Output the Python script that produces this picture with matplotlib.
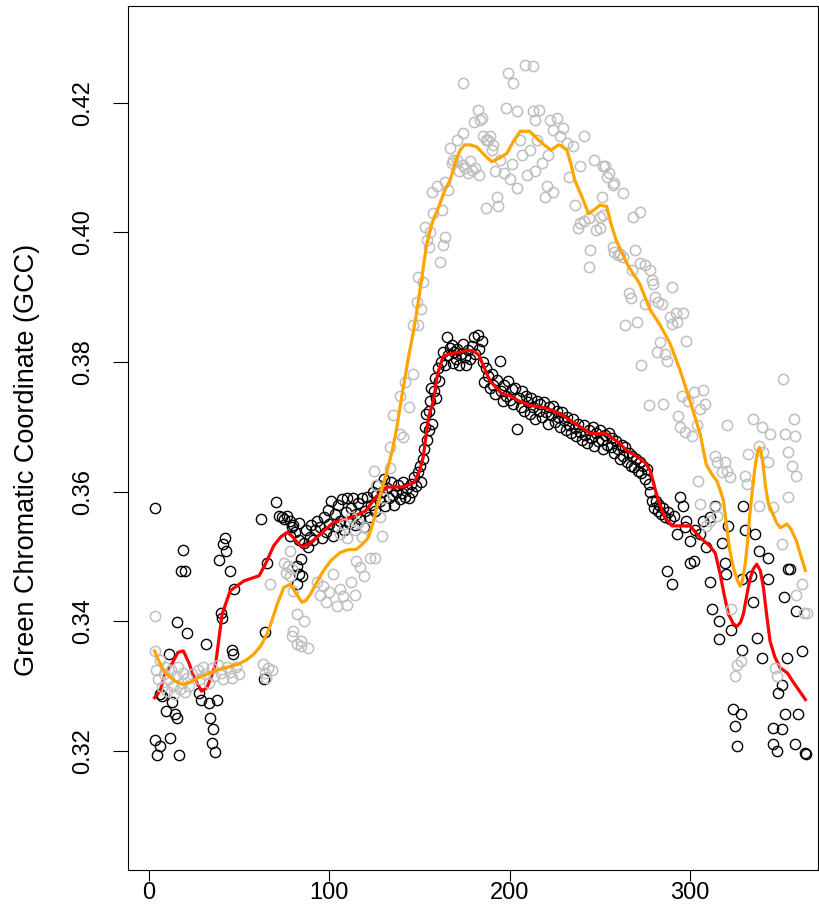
import matplotlib
matplotlib.use('Agg')
import matplotlib.pyplot as plt

# GCC values: (day of year, gcc)
black_pts = [
    (3, .3575), (3.5, .3217), (4.4, .3194), (6.3, .3207), (6.3, .3287), (7.2, .3284), (9.6, .3261),
    (10.9, .3350), (11.8, .3220), (12.8, .3276), (14.6, .3256), (15.5, .3251), (15.5, .3398),
    (16.5, .3194), (17.4, .3478), (18.9, .3510), (20.1, .3478), (21, .3381), (27.5, .3289),
    (28.5, .3279), (31.6, .3364), (33, .3274), (33.6, .3251), (35, .3212), (35.5, .3233),
    (36.8, .3198), (37.7, .3279), (38.6, .3495), (40, .3412), (40.5, .3405), (41, .3519),
    (42.3, .3529), (42.7, .3508), (44.7, .3477), (46, .3356), (46.6, .3350), (47, .3449),
    (62.3, .3557), (63.6, .3310), (64.3, .3383), (65.4, .3489), (70.4, .3584), (72, .3562),
    (73.5, .3560), (75, .3558), (76.5, .3562), (78, .3555), (78, .3532), (79, .3545), (80, .3548),
    (81, .3538), (82, .3457), (82, .3485), (83, .3525), (83, .3473), (83.4, .3552), (84, .3496),
    (84.7, .3470), (86, .3520), (87, .3540), (88, .3515), (89, .3530), (90, .3548), (91, .3525),
    (92, .3540), (93, .3555),
    (95, .3545), (96, .3528), (97, .3560), (98, .3538), (99, .3572), (100, .3550), (101, .3585),
    (102, .3532), (103, .3565), (104, .3545), (105, .3580), (106, .3555), (107, .3588), (108, .3540),
    (109, .3568), (110, .3590), (111, .3552), (112, .3575), (113, .3590), (114, .3548), (115, .3565),
    (116, .3582), (117, .3558), (118, .3590), (119, .3545), (120, .3570), (121, .3592), (122, .3560),
    (123, .3580), (124, .3600), (125, .3570), (126, .3595), (127, .3610), (128, .3585), (129, .3600),
    (130, .3620), (131, .3578), (132, .3605), (133, .3590), (134, .3615), (135, .3595), (136, .3580),
    (137, .3600), (138, .3610), (139, .3588), (140, .3598), (141, .3615), (142, .3592), (143, .3605),
    (144, .3590), (145, .3612), (146, .3600), (147, .3622), (148, .3608), (149, .3630), (150, .3640),
    (151, .3615),
    (152, .3650), (152.5, .3665), (153, .3700), (153.5, .3720), (154, .3680), (155, .3695),
    (155.5, .3725), (156, .3740), (156.5, .3760), (157, .3705), (158, .3755), (158.5, .3775),
    (159, .3745), (160, .3790), (161, .3770), (162, .3800), (163, .3815), (164, .3795), (165, .3838),
    (166, .3810), (167, .3822), (168, .3826), (168.6, .3798), (169, .3815), (170, .3805), (171, .3820),
    (172, .3795), (173, .3812), (174, .3828), (175, .3808), (176, .3795), (177, .3818), (178, .3805),
    (179, .3825), (180, .3838), (181, .3812), (182.5, .3841), (183, .3820), (184.4, .3833),
    (185, .3800), (186, .3769), (187, .3790), (188, .3778), (189, .3760), (190, .3782), (191, .3765),
    (192, .3750), (193, .3772), (194.7, .3802), (195, .3755), (196, .3740), (197, .3765), (198, .3748),
    (199, .3770), (200, .3742), (201, .3758), (202, .3735), (203, .3760), (204, .3697), (205, .3745),
    (206, .3730), (207, .3755), (208, .3725), (209, .3748), (210, .3738), (211, .3720), (212, .3745),
    (213, .3730), (214, .3712), (215, .3740), (216, .3725), (217, .3735), (218, .3715), (219, .3738),
    (220, .3722), (221, .3705), (222, .3730), (223, .3718), (224, .3732), (225, .3708), (226, .3725),
    (227, .3715), (228, .3700), (229, .3722), (230, .3710), (231, .3695), (232, .3715), (233, .3702),
    (234, .3690), (235, .3712), (236, .3698), (237, .3685), (238, .3705), (239, .3692), (240, .3680),
    (241, .3702), (242, .3688), (243, .3675), (244, .3695), (245, .3682), (246, .3700), (247, .3670),
    (248, .3690), (249, .3678), (250, .3695), (251, .3680), (252, .3665), (253, .3688), (254, .3672),
    (255, .3690), (256, .3668), (257, .3682), (258, .3660), (259, .3678), (260, .3665), (261, .3650),
    (262, .3672), (263, .3655), (264, .3668), (265, .3645), (266, .3660), (267, .3640), (268, .3655),
    (269, .3638), (270, .3650), (271, .3632), (272, .3645), (273, .3628), (274, .3640), (275, .3620),
    (276, .3635), (277, .3612), (278, .3600), (279, .3585), (280, .3575), (281, .3586), (282, .3570),
    (283, .3580), (284, .3565), (285, .3575), (286, .3560), (287, .3478), (288, .3568), (289, .3558),
    (290, .3458), (291, .3562), (292.6, .3535), (294.5, .3591), (296, .3578), (297, .3545),
    (298, .3555), (300, .3524), (300, .3490), (302, .3493), (303, .3540), (305.6, .3535),
    (307, .3555), (309, .3514), (311, .3460), (311, .3560), (312, .3418), (314, .3578), (316, .3400),
    (316, .3373), (318, .3520), (319.5, .3490), (320, .3472), (321, .3547), (323, .3387),
    (324, .3264), (325, .3238), (326, .3207), (328, .3256), (328.7, .3465), (328.7, .3356),
    (329.6, .3578), (330.6, .3540), (334, .3470), (335, .3429), (336, .3534), (337, .3374),
    (338, .3509), (339.8, .3343), (343.5, .3498), (343.5, .3465), (346, .3235), (346, .3210),
    (348, .3199), (349, .3289), (351, .3302), (351, .3233), (352, .3437), (352.7, .3256),
    (353.6, .3343), (354.6, .3480), (355.5, .3480), (358, .3210), (359, .3416), (360, .3256),
    (362, .3354), (364, .3197), (364.5, .3195),
]

gray_pts = [
    (3.2, .3408), (3.5, .3354), (4, .3325), (5, .3310), (6, .3340), (7, .3298), (8, .3318), (9, .3330),
    (10, .3292), (11, .3310), (12, .3325), (13, .3300), (14, .3288), (15, .3315), (16, .3330),
    (17, .3295), (18, .3305), (19, .3320), (20, .3290), (21, .3312), (22, .3300), (24, .3318),
    (27, .3325), (28, .3310), (30, .3330), (31, .3318), (33, .3305), (35, .3328), (36, .3315),
    (38, .3332), (40, .3320), (41, .3310), (43, .3330), (45, .3322), (46, .3312), (48, .3330),
    (50, .3318), (63, .3334), (64, .3320), (65, .3312), (66, .3328), (67, .3457), (68, .3325),
    (75, .3490), (76, .3475), (77, .3485), (78, .3470), (78.4, .3508), (79.3, .3377), (79.5, .3480),
    (80, .3447), (80, .3385), (82, .3411), (82, .3364), (84, .3361), (84, .3370), (86, .3400),
    (88, .3358), (93, .3460), (95, .3440), (96.7, .3454), (98, .3430), (100, .3445), (102, .3472),
    (104, .3423), (106, .3450), (107.8, .3439), (110, .3425), (112, .3460), (114, .3440),
    (115, .3493), (117, .3483), (119, .3470), (122.6, .3498), (125, .3498), (106, .3535),
    (108, .3550), (110, .3528), (112, .3560), (114, .3540), (116, .3552), (118, .3530), (120, .3545),
    (128, .3560), (129, .3531), (124.5, .3632), (126, .3610), (130, .3590), (133.7, .3637),
    (133.7, .3668), (135.5, .3718), (139, .3689), (141, .3684), (139, .3748), (144, .3730),
    (142, .3769), (146.6, .3782), (146.6, .3857), (148.5, .3893), (149.4, .3857), (151, .3882),
    (149.4, .3931), (152, .3924), (153, .4009), (155.8, .4001), (154, .3988), (155, .3978),
    (164, .3993), (163, .3980), (161.4, .3955), (157.7, .4030), (162.4, .4035), (156.7, .4063),
    (159.5, .4071), (166, .4065), (164, .4078),
    (167, .4130), (168, .4107), (168.8, .4112), (170.6, .4143), (170.6, .4112), (172, .4095),
    (174, .4153), (174, .4104), (174, .4230), (175.3, .4100), (177, .4091), (178, .4110),
    (179, .4096), (180, .4171), (181, .4099), (182.6, .4189), (183.6, .4174), (184.4, .4176),
    (183, .4088), (185.4, .4148), (187, .4143), (187, .4037), (188, .4143), (189, .4148),
    (190, .4127), (191, .4135), (192, .4095), (193, .4055), (193.7, .4040), (194.7, .4112),
    (196.6, .4091), (198, .4192), (199, .4246), (200, .4083), (201, .4105), (202, .4230),
    (204, .4068), (204, .4187), (205.8, .4143), (207, .4120), (208.5, .4259), (209.5, .4089),
    (211, .4127), (213, .4256), (213, .4187), (214, .4174), (214, .4094), (215, .4143), (216, .4189),
    (217.7, .4107), (219.6, .4055), (220.6, .4071), (221, .4120), (222.4, .4174), (224, .4158),
    (224, .4063), (226, .4176), (228, .4148), (229.8, .4161), (231.7, .4138), (232.6, .4086),
    (235, .4133), (236, .4042), (238, .4006), (239, .4014), (239, .4102), (241, .4148), (241, .4017),
    (243.7, .4022), (243.7, .3947), (244.6, .3973), (246.5, .4112), (248, .4004), (250, .4024),
    (250, .4006), (251, .4055), (252, .4102), (252, .4027), (253, .4102), (254, .4086),
    (254.8, .4091), (257.5, .4073), (258, .4076), (257.5, .3978), (258, .3970), (260, .3965),
    (261, .3967), (263, .4060), (263, .3962), (264, .3857), (266, .3906), (267, .3898),
    (267.7, .3942), (268.6, .4024), (269.5, .3973), (270.5, .3862), (272, .4032), (272, .3952),
    (273, .3795), (275, .3950), (275, .3890), (277, .3733), (278, .3942), (278.7, .3926),
    (279.7, .3921), (280.6, .3900), (281.6, .3815), (282.5, .3893), (283.4, .3831), (284.3, .3890),
    (285, .3735), (286, .3813), (287, .3802), (289, .3870), (290, .3916), (290, .3859), (292, .3875),
    (292.6, .3862), (293.6, .3717), (294.5, .3699), (295.4, .3748), (296, .3875), (297, .3692),
    (298, .3833), (299, .3740), (301, .3686), (302, .3753), (303.7, .3702), (304.7, .3617),
    (305.6, .3728), (305.6, .3581), (307.4, .3756), (308.4, .3735), (309, .3547), (311, .3555),
    (314, .3655), (314, .3576), (315, .3645), (315, .3563), (317.6, .3630), (319.5, .3645),
    (320.4, .3632), (320.4, .3702), (322, .3622), (323, .3418), (325, .3315), (326, .3333),
    (328, .3338), (330.6, .3624), (331.5, .3612), (332.4, .3658), (335, .3712), (338, .3671),
    (338, .3578), (339.8, .3699), (340.7, .3661), (343.5, .3645), (344.4, .3689), (346, .3576),
    (347, .3328), (348, .3315), (351, .3519), (351.8, .3774), (352.7, .3689), (354.6, .3661),
    (354.6, .3591), (356.4, .3640), (357.4, .3712), (358.3, .3686), (359, .3624), (359, .3441),
    (362, .3457), (363, .3413), (364.7, .3413),
]

# smoothed curves
red_curve = [
    (3, .3282), (6, .3292), (9, .3320), (13, .3336), (16, .3352), (19, .3354), (22, .3336), (25, .3313),
    (29, .3292), (32, .3297), (35, .3318), (37, .3336), (40.5, .3411), (45, .3447), (52.5, .3462),
    (61, .3470), (64.5, .3488), (69, .3516), (73, .3530), (76.5, .3537), (79, .3532), (82, .3522),
    (85, .3514), (89, .3520), (95, .3534), (102, .3552), (112, .3560), (120, .3570), (126, .3592),
    (132, .3607), (141, .3607), (147, .3614), (150, .3632), (152, .3653), (155, .3715), (157.7, .3740),
    (160, .3782), (163, .3808), (166, .3812), (172, .3815), (177, .3818), (180, .3817), (183, .3810),
    (186, .3790), (189, .3771), (195.6, .3751), (200, .3748), (205, .3740), (211, .3733), (218, .3730),
    (224, .3725), (229, .3718), (233.5, .3710), (239, .3700), (244.6, .3690), (250, .3689),
    (254, .3689), (261, .3674), (265, .3663), (270, .3655), (275, .3645), (278, .3632), (280, .3610),
    (282.5, .3586), (286, .3560), (290, .3547), (295, .3547), (300, .3547), (305.6, .3529),
    (311, .3516), (314, .3505), (316.7, .3473), (319, .3440), (321.3, .3411), (324, .3396),
    (326, .3392), (328, .3398), (329.6, .3411), (331.5, .3440), (333, .3462), (335, .3480),
    (337, .3488), (339, .3478), (340.7, .3452), (342.5, .3410), (344.4, .3369), (347, .3345),
    (350, .3328), (354, .3320), (357, .3307), (360, .3295), (364, .3279),
]

orange_curve = [
    (3, .3354), (6, .3335), (9, .3320), (14, .3308), (19, .3302), (23, .3306), (27.5, .3313),
    (32, .3318), (36, .3323), (42, .3328), (48.8, .3333), (54, .3340), (58, .3349), (62, .3362),
    (65.4, .3380), (68, .3400), (71, .3426), (74.7, .3452), (78.3, .3457), (81, .3445), (84.7, .3429),
    (87, .3432), (89.3, .3441), (93, .3460), (96.7, .3478), (101, .3494), (106, .3506), (110, .3510),
    (115, .3511), (118, .3518), (121.6, .3529), (124, .3550), (126.3, .3576), (129, .3603),
    (132, .3632), (135, .3665), (137.4, .3699), (140, .3745), (142, .3777), (144, .3810),
    (146, .3838), (148, .3870), (149.4, .3895), (152, .3945), (154, .3983), (157, .4015),
    (161.4, .4045), (164, .4065), (167, .4081), (170, .4110), (172.5, .4127), (175, .4135),
    (178, .4135), (181.7, .4132), (185, .4122), (190, .4109), (194.7, .4115), (198.4, .4122),
    (202, .4140), (205.8, .4156), (211, .4156), (214, .4148), (217, .4140), (220, .4133),
    (223, .4127), (227, .4135), (229, .4133), (231.7, .4127), (234, .4105), (236, .4081),
    (240, .4055), (243.7, .4029), (247, .4035), (250, .4042), (253.8, .4040), (256, .4015),
    (259, .3988), (262, .3970), (265, .3952), (268, .3938), (272, .3921), (275, .3900), (278, .3880),
    (283.4, .3857), (289, .3828), (294.5, .3787), (300, .3740), (305.6, .3689), (309, .3642),
    (312, .3627), (314.8, .3617), (317, .3600), (318.5, .3586), (320.4, .3544), (322, .3510),
    (324, .3483), (326, .3465), (327.8, .3454), (329, .3462), (330.6, .3488), (332, .3525),
    (333, .3560), (334.5, .3600), (336, .3637), (337.5, .3662), (338.5, .3668), (339.5, .3660),
    (340.7, .3637), (342, .3605), (343.5, .3581), (346, .3565), (348, .3552), (350, .3544),
    (352, .3547), (353.6, .3550), (356, .3542), (359, .3524), (361, .3505), (364, .3478),
]

x_ticks = [0, 100, 200, 300]
y_ticks = [0.32, 0.34, 0.36, 0.38, 0.40, 0.42]
y_title = 'Green Chromatic Coordinate (GCC)'

plt.rcParams['font.family'] = ['Liberation Sans', 'DejaVu Sans']

fig = plt.figure(figsize=(8.2, 9.07), dpi=100)
ax = fig.add_axes([0.1557, 0.0408, 0.8419, 0.9531])

bx, by = zip(*black_pts)
gx, gy = zip(*gray_pts)
rx, ry = zip(*red_curve)
ox, oy = zip(*orange_curve)

ax.plot(bx, by, 'o', ms=7.4, mfc='none', mec='black', mew=1.0, zorder=2)
ax.plot(rx, ry, color='#FF0000', lw=2.3, zorder=3, solid_joinstyle='round')
ax.plot(gx, gy, 'o', ms=7.4, mfc='none', mec='#BEBEBE', mew=1.1, zorder=4)
ax.plot(ox, oy, color='#FFA500', lw=2.3, zorder=5, solid_joinstyle='round')

ax.set_xlim(-11.9, 371)
ax.set_ylim(0.3016, 0.4350)
ax.set_xticks(x_ticks)
ax.set_yticks(y_ticks)
ax.set_xticklabels([str(t) for t in x_ticks])
ax.set_yticklabels(['%.2f' % t for t in y_ticks], rotation=90, va='center')

ax.tick_params(axis='both', width=0.8, labelsize=17)
ax.tick_params(axis='x', length=8, pad=1)
ax.tick_params(axis='y', length=10.8, pad=13)
for s in ax.spines.values():
    s.set_linewidth(0.8)

fig.text(0.033, 0.493, y_title, rotation=90, ha='center', va='center', fontsize=19.5)

fig.savefig('out.png', dpi=100)
